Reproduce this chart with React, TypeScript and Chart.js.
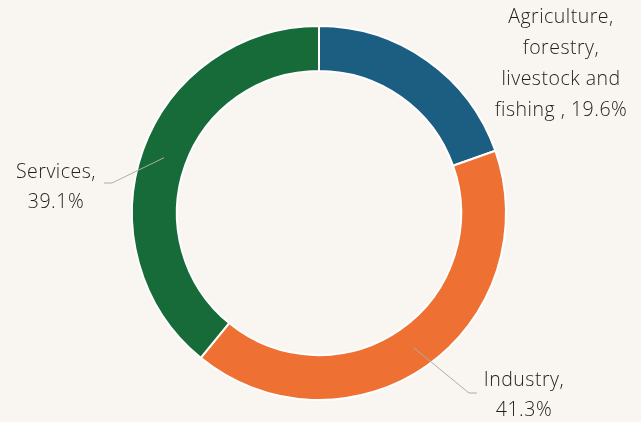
import React, { useEffect, useRef } from "react";
import { Chart, registerables } from "chart.js";

Chart.register(...registerables);

const categories = ["Agriculture, forestry, livestock and fishing", "Industry", "Services"];
const shares = [19.6, 41.3, 39.1];
const colors = ["#1b5e82", "#ee7133", "#166b38"];
const labelLines = [
  ["Agriculture,", "forestry,", "livestock and", "fishing , 19.6%"],
  ["Industry,", "41.3%"],
  ["Services,", "39.1%"],
];

const BG = "#f9f6f1";
const FONT = "300 19.5px 'Open Sans', sans-serif";

// label layout relative to chart center (offsets in px); leader: elbow & end
const labelLayout = [
  { leader: false, elbow: [0, 0], end: [0, 0], tx: 242, ty: [-196, -165, -134, -103] },
  { leader: true, elbow: [150, 180], end: [158, 180], tx: 205, ty: [167, 197] },
  { leader: true, elbow: [-207, -30], end: [-215, -30], tx: -263, ty: [-41, -11] },
];

const labelPlugin = {
  id: "outerLabels",
  afterDatasetsDraw(chart: any) {
    const ctx = chart.ctx;
    const meta = chart.getDatasetMeta(0);
    ctx.save();
    meta.data.forEach((arc: any, i: number) => {
      const { x, y, startAngle, endAngle, innerRadius, outerRadius } = arc.getProps(
        ["x", "y", "startAngle", "endAngle", "innerRadius", "outerRadius"],
        true
      );
      const mid = (startAngle + endAngle) / 2;
      const r = (innerRadius + outerRadius) / 2;
      const ax = x + Math.cos(mid) * r;
      const ay = y + Math.sin(mid) * r;
      const L = labelLayout[i];
      if (L.leader) {
        ctx.strokeStyle = "#b0aca6";
        ctx.lineWidth = 1;
        ctx.beginPath();
        ctx.moveTo(ax, ay);
        ctx.lineTo(x + L.elbow[0], y + L.elbow[1]);
        ctx.lineTo(x + L.end[0], y + L.end[1]);
        ctx.stroke();
      }
      ctx.fillStyle = "#1e1e1e";
      ctx.font = FONT;
      (ctx as any).letterSpacing = "0.5px";
      ctx.textAlign = "center";
      ctx.textBaseline = "middle";
      labelLines[i].forEach((t, k) => {
        ctx.fillText(t, x + L.tx, y + L.ty[k]);
      });
    });
    ctx.restore();
  },
};

export default function App() {
  const ref = useRef<HTMLCanvasElement | null>(null);
  useEffect(() => {
    document.body.style.margin = "0";
    document.body.style.background = BG;
    const chart = new Chart(ref.current as HTMLCanvasElement, {
      type: "doughnut",
      data: {
        labels: categories,
        datasets: [
          {
            data: shares,
            backgroundColor: colors,
            borderColor: "#ffffff",
            borderWidth: 2,
          },
        ],
      },
      options: {
        animation: false,
        responsive: false,
        maintainAspectRatio: false,
        cutout: "76%",
        layout: { padding: { left: 131, right: 134, top: 25, bottom: 21 } },
        plugins: { legend: { display: false }, tooltip: { enabled: false } },
      },
      plugins: [labelPlugin],
    });
    return () => chart.destroy();
  }, []);
  return (
    <div style={{ width: 641, height: 422, background: BG }}>
      <canvas ref={ref} width={641} height={422} />
    </div>
  );
}
